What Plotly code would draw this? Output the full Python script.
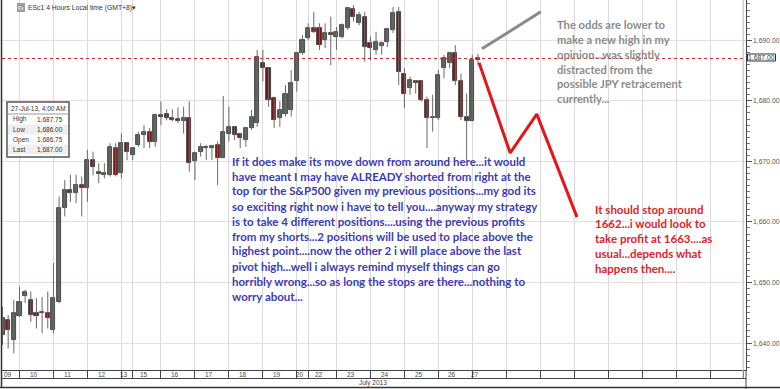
import plotly.graph_objects as go

# ---------------- data ----------------
day_labels = ["09", "10", "11", "12", "13", "15", "16", "17", "18", "19",
              "20", "22", "23", "24", "25", "26", "27"]
day_counts = [3, 6, 6, 6, 2, 5, 6, 6, 6, 6, 2, 5, 6, 6, 6, 6, 2]
future_day_cells = 8
slots_per_day = 6

opens = [1641.3, 1643.8, 1640.5, 1644.5, 1647.7, 1647.1, 1644.9, 1644.9, 1645.0, 1642.1,
         1646.8, 1662.3, 1665.3, 1664.7, 1666.1, 1665.6, 1670.2, 1668.3, 1667.8, 1667.8,
         1672.2, 1668.0, 1673.0, 1671.1, 1672.7, 1674.4, 1674.9, 1673.2, 1677.7, 1677.8,
         1677.2, 1677.0, 1676.6, 1677.1, 1670.0, 1671.6, 1672.4, 1672.2, 1672.7, 1670.5,
         1674.6, 1675.7, 1674.5, 1673.5, 1675.5, 1676.3, 1686.2, 1685.4, 1680.4, 1677.1,
         1677.9, 1678.5, 1683.2, 1687.9, 1690.3, 1692.0, 1692.0, 1690.0, 1691.2, 1690.6,
         1690.6, 1692.0, 1695.1, 1692.8, 1693.9, 1689.5, 1688.4, 1689.0, 1689.8, 1691.7,
         1694.7, 1684.5, 1682.1, 1683.2, 1683.2, 1680.1, 1677.1, 1677.1, 1685.4, 1686.2,
         1687.9, 1683.2, 1677.4, 1676.6, 1686.75]
highs = [1646.0, 1644.6, 1647.1, 1649.3, 1648.8, 1648.5, 1647.4, 1647.6, 1648.5, 1653.2,
         1664.2, 1666.9, 1667.8, 1667.8, 1667.5, 1671.9, 1671.6, 1669.7, 1669.7, 1673.0,
         1673.0, 1674.6, 1673.1, 1672.4, 1674.9, 1676.0, 1675.5, 1677.9, 1679.9, 1678.6,
         1678.6, 1678.9, 1679.0, 1679.9, 1671.6, 1673.0, 1672.7, 1672.7, 1673.3, 1680.8,
         1679.0, 1675.7, 1674.6, 1675.7, 1678.5, 1688.4, 1688.4, 1685.4, 1680.7, 1679.9,
         1682.6, 1685.1, 1688.1, 1690.9, 1692.8, 1694.7, 1692.8, 1692.8, 1693.9, 1692.2,
         1692.8, 1695.5, 1695.8, 1694.7, 1694.7, 1690.6, 1691.4, 1689.8, 1692.0, 1695.5,
         1695.5, 1685.4, 1684.0, 1683.4, 1683.4, 1680.7, 1681.0, 1685.1, 1687.6, 1688.1,
         1689.2, 1684.5, 1681.2, 1687.6, 1687.75]
lows = [1639.7, 1639.1, 1638.3, 1644.3, 1646.6, 1643.5, 1642.4, 1641.6, 1642.4, 1641.6,
        1646.6, 1660.9, 1663.3, 1663.1, 1660.9, 1663.3, 1667.7, 1666.4, 1667.2, 1667.5,
        1667.5, 1667.2, 1670.2, 1670.2, 1672.4, 1672.2, 1672.2, 1672.4, 1676.0, 1676.8,
        1676.6, 1676.3, 1674.6, 1668.3, 1666.9, 1670.8, 1670.2, 1670.2, 1666.1, 1670.5,
        1673.3, 1673.5, 1672.2, 1672.4, 1675.2, 1675.7, 1683.2, 1679.0, 1675.5, 1675.7,
        1677.4, 1677.4, 1681.5, 1687.6, 1690.0, 1691.2, 1688.4, 1688.7, 1685.9, 1688.4,
        1690.3, 1691.7, 1693.1, 1692.5, 1686.5, 1686.7, 1687.6, 1687.6, 1688.9, 1691.2,
        1682.6, 1678.8, 1681.0, 1681.2, 1679.9, 1672.2, 1674.9, 1676.8, 1683.7, 1685.4,
        1682.6, 1676.8, 1670.2, 1676.6, 1686.00]
closes = [1644.1, 1642.2, 1644.9, 1646.8, 1648.5, 1644.6, 1644.4, 1645.2, 1644.1, 1647.4,
          1662.3, 1665.3, 1664.7, 1666.1, 1665.6, 1670.2, 1669.1, 1667.9, 1668.0, 1672.4,
          1667.8, 1673.0, 1671.6, 1672.2, 1674.4, 1674.9, 1673.2, 1677.7, 1677.4, 1677.2,
          1676.8, 1676.6, 1677.1, 1669.8, 1671.4, 1672.4, 1672.2, 1672.5, 1670.5, 1674.9,
          1675.7, 1674.4, 1673.8, 1675.5, 1677.4, 1687.3, 1685.4, 1680.1, 1676.8, 1678.5,
          1681.2, 1682.9, 1687.9, 1690.0, 1692.0, 1691.4, 1689.2, 1691.2, 1690.9, 1691.3,
          1692.5, 1695.3, 1693.9, 1694.2, 1688.9, 1688.7, 1689.8, 1689.5, 1691.8, 1694.5,
          1684.8, 1681.2, 1683.4, 1682.9, 1680.1, 1677.1, 1677.4, 1684.3, 1687.0, 1687.9,
          1683.2, 1677.4, 1676.6, 1686.75, 1687.00]

last_price = 1687.00
info_title = "27-Jul-13, 4:00 AM"
info_rows = [("High", "1,687.75"), ("Low", "1,686.00"), ("Open", "1,686.75"), ("Last", "1,687.00")]
price_ticks = [1640, 1650, 1660, 1670, 1680, 1690]

# drawn arrows (slot index, price)
gray_line_x = [84.7, 95.1]
gray_line_y = [1688.6, 1694.7]
red_line_x = [84.2, 89.7, 94.4, 101.5]
red_line_y = [1686.3, 1671.4, 1677.8, 1660.8]

gray_note = ["The odds are lower to", "make a new high in my", "opinion...was slightly",
             "distracted from the", "possible JPY retracement", "currently..."]
red_note = ["It should stop around", "1662...i would look to", "take profit at 1663....as",
            "usual...depends what", "happens then...."]
blue_note = ["If it does make its move down from around here...it would",
             "have meant I may have ALREADY shorted from right at the",
             "top for the S&P500 given my previous positions...my god its",
             "so exciting right now i have to tell you....anyway my strategy",
             "is to take 4 different positions....using the previous profits",
             "from my shorts...2 positions will be used to place above the",
             "highest point....now the other 2 i will place above the last",
             "pivot high...well i always remind myself things can go",
             "horribly wrong...so as long the stops are there...nothing to",
             "worry about..."]

# ---------------- derived ----------------
n = len(opens)
xs = list(range(n))
day_starts = []
s = 0
for c in day_counts:
    day_starts.append(s)
    s += c
day_centers = [st + (c - 1) / 2 for st, c in zip(day_starts, day_counts)]
last_start = day_starts[-1]
separators = day_starts[1:] + [last_start + slots_per_day * k for k in range(1, future_day_cells + 1)]

W_FIG, H_FIG = 780, 389
L, R, T, B = 2, 746, 0, 370
PW, PH = R - L, B - T
SLOT = 5.66
X0 = 2.5


def px(x):
    return (x - L) / PW


def py(y):
    return 1 - (y - T) / PH


fig = go.Figure()

# wicks
wx, wy = [], []
for i in xs:
    wx += [i, i, None]
    wy += [lows[i], highs[i], None]
fig.add_trace(go.Scatter(x=wx, y=wy, mode="lines", line=dict(color="#6a6a6a", width=1),
                         hoverinfo="skip", showlegend=False))

# bodies
base = [min(o, c) for o, c in zip(opens, closes)]
height = [max(abs(c - o), 0.12) for o, c in zip(opens, closes)]
colors = ["#59625a" if c >= o else "#7a1818" for o, c in zip(opens, closes)]
fig.add_trace(go.Bar(x=xs, y=height, base=base, width=0.72,
                     marker=dict(color=colors, line=dict(color="#333333", width=0.8)),
                     showlegend=False))

# drawn lines
fig.add_trace(go.Scatter(x=gray_line_x, y=gray_line_y, mode="lines",
                         line=dict(color="#8a8a8a", width=3), showlegend=False, hoverinfo="skip"))
fig.add_trace(go.Scatter(x=red_line_x, y=red_line_y, mode="lines",
                         line=dict(color="#e3161c", width=3), showlegend=False, hoverinfo="skip"))

xr0 = (L - X0) / SLOT
xr1 = (R - X0) / SLOT
yr1 = 1690 + 40.3 / 6.054
yr0 = 1690 - (B - 40.3) / 6.054

shapes = []
# last price dotted line
shapes.append(dict(type="line", xref="paper", yref="y", x0=0, x1=1, y0=last_price, y1=last_price,
                   line=dict(color="#d62020", width=1, dash="dot")))
# frame lines
shapes.append(dict(type="line", xref="paper", yref="paper", x0=px(1.5), x1=px(1.5), y0=py(387), y1=1,
                   line=dict(color="#333333", width=1.5)))
shapes.append(dict(type="line", xref="paper", yref="paper", x0=px(0), x1=px(780), y0=py(387.5), y1=py(387.5),
                   line=dict(color="#333333", width=1.5)))
shapes.append(dict(type="line", xref="paper", yref="paper", x0=px(1.5), x1=1, y0=py(378.5), y1=py(378.5),
                   line=dict(color="#444444", width=1)))
shapes.append(dict(type="line", xref="paper", yref="paper", x0=1, x1=1, y0=py(389), y1=py(370),
                   line=dict(color="#444444", width=1)))
shapes.append(dict(type="line", xref="paper", yref="paper", x0=px(743), x1=px(743), y0=py(378), y1=1,
                   line=dict(color="#c8c8c8", width=1)))
# price label box
shapes.append(dict(type="rect", xref="paper", yref="paper", x0=px(747.5), x1=px(775.5), y0=py(61), y1=py(54),
                   line=dict(color="#333333", width=1), fillcolor="white"))
# header icon
shapes.append(dict(type="rect", xref="paper", yref="paper", x0=px(17), x1=px(25), y0=py(12), y1=py(3),
                   line=dict(width=0), fillcolor="#9c9c9c"))
# info box
bx0, bx1, by0 = 7, 69, 102
shapes.append(dict(type="rect", xref="paper", yref="paper", x0=px(bx0), x1=px(bx1), y0=py(by0 + 55), y1=py(by0),
                   line=dict(color="#555555", width=1.5), fillcolor="white"))
shapes.append(dict(type="line", xref="paper", yref="paper", x0=px(bx0), x1=px(bx1), y0=py(by0 + 12), y1=py(by0 + 12),
                   line=dict(color="#999999", width=1)))
for k in range(len(info_rows)):
    if k % 2 == 1:
        shapes.append(dict(type="rect", xref="paper", yref="paper", x0=px(bx0 + 1), x1=px(bx1 - 1),
                           y0=py(by0 + 12.5 + 10 * (k + 1)), y1=py(by0 + 12.5 + 10 * k),
                           line=dict(width=0), fillcolor="#efefef", layer="above"))

ann = []
# y tick labels
for v in price_ticks:
    ann.append(dict(x=px(751), y=v, xref="paper", yref="y", text=f"{v:,.2f}", showarrow=False,
                    font=dict(size=6.8, color="#555555", family="Arial"), xanchor="left", yanchor="middle"))
# date labels
for lab, cx in zip(day_labels, day_centers):
    ann.append(dict(x=cx, y=py(374.3), xref="x", yref="paper", text=lab, showarrow=False,
                    font=dict(size=6.5, color="#444444", family="Arial"), xanchor="center", yanchor="middle"))
ann.append(dict(x=px(373), y=py(383), xref="paper", yref="paper", text="July 2013", showarrow=False,
                font=dict(size=6.5, color="#444444", family="Arial"), xanchor="center", yanchor="middle"))
# header
ann.append(dict(x=px(21), y=py(7.8), xref="paper", yref="paper", text="Fx", showarrow=False,
                font=dict(size=5, color="white", family="Arial"), xanchor="center", yanchor="middle"))
ann.append(dict(x=px(26), y=py(7.8), xref="paper", yref="paper", text="ESc1 4 Hours Local time (GMT+8)\u25be",
                showarrow=False, font=dict(size=6.8, color="#333333", family="Arial"),
                xanchor="left", yanchor="middle"))
# price label
ann.append(dict(x=px(761.5), y=py(57.5), xref="paper", yref="paper", text="1,687.00", showarrow=False,
                font=dict(size=6.8, color="#333333", family="Arial"), xanchor="center", yanchor="middle"))
# info box text
ann.append(dict(x=px(38), y=py(by0 + 6.5), xref="paper", yref="paper", text=info_title, showarrow=False,
                font=dict(size=6.5, color="#333333", family="Arial"), xanchor="center", yanchor="middle"))
for k, (lab, val) in enumerate(info_rows):
    yy = by0 + 17.5 + 10 * k
    ann.append(dict(x=px(11), y=py(yy), xref="paper", yref="paper", text=lab, showarrow=False,
                    font=dict(size=6.5, color="#333333", family="Arial"), xanchor="left", yanchor="middle"))
    ann.append(dict(x=px(65), y=py(yy), xref="paper", yref="paper", text=val, showarrow=False,
                    font=dict(size=6.5, color="#333333", family="Arial"), xanchor="right", yanchor="middle"))


def note(lines, x_left, y_first, step, color, size):
    for k, line in enumerate(lines):
        ann.append(dict(x=px(x_left), y=py(y_first + step * k), xref="paper", yref="paper", text=line,
                        showarrow=False, xanchor="left", yanchor="middle",
                        font=dict(size=size, color=color, family="Lato", weight="bold")))


note(blue_note, 230, 161, 15.0, "#3c3cb4", 11.5)
note(gray_note, 555, 25, 14.7, "#8c8c8c", 11.2)
note(red_note, 593, 209, 14.8, "#d9262c", 11.5)

fig.update_layout(
    width=W_FIG, height=H_FIG,
    margin=dict(l=L, r=W_FIG - R, t=T, b=H_FIG - B, autoexpand=False),
    paper_bgcolor="white", plot_bgcolor="white",
    showlegend=False, barmode="overlay", bargap=0, hovermode=False,
    shapes=shapes, annotations=ann,
    xaxis=dict(range=[xr0, xr1], tickvals=separators, showticklabels=False,
               showgrid=True, gridcolor="#dadada", gridwidth=1, zeroline=False,
               showline=True, linecolor="#444444", linewidth=1,
               ticks="outside", ticklen=8, tickcolor="#444444", tickwidth=1),
    yaxis=dict(range=[yr0, yr1], side="right", tickvals=price_ticks, showticklabels=False,
               showgrid=True, gridcolor="#eddcdc", gridwidth=1, zeroline=False,
               showline=True, linecolor="#444444", linewidth=1,
               ticks="outside", ticklen=5, tickcolor="#555555",
               minor=dict(dtick=1, ticks="outside", ticklen=3, tickcolor="#777777", showgrid=False)),
)

fig.write_html("out.html", config={"displayModeBar": False},
               post_script="document.body.style.margin='0';document.body.style.padding='0';")
